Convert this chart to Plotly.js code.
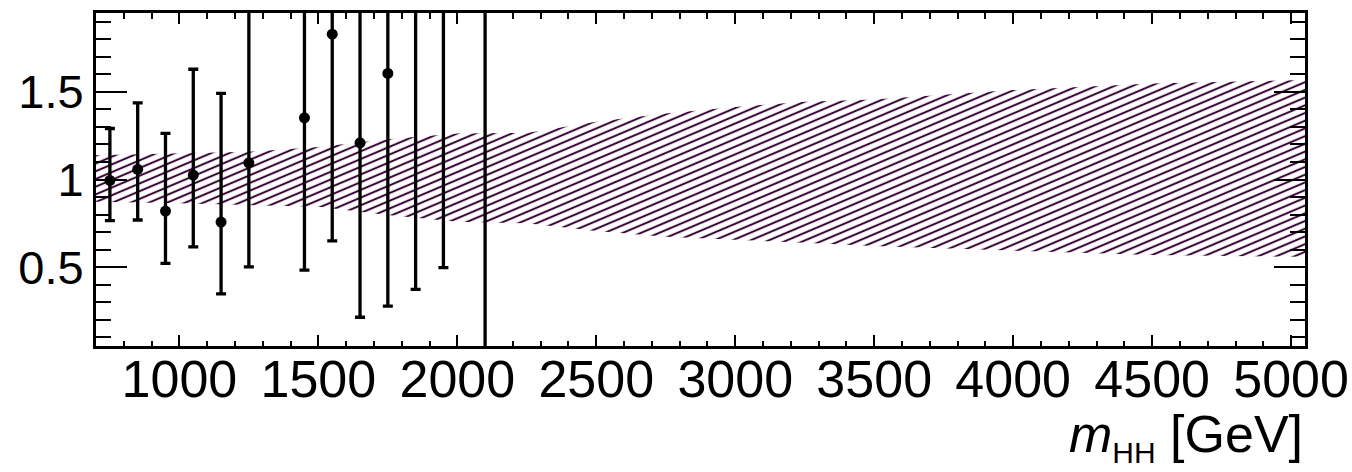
<!DOCTYPE html>
<html><head><meta charset="utf-8">
<script src="https://cdn.plot.ly/plotly-3.0.1.min.js"></script>
<style>html,body{margin:0;padding:0;background:#fff;} #plot{width:1352px;height:472px;}</style>
</head><body><div id="plot"></div>
<script>
// Uncertainty band (m_HH [GeV], lower / upper edge of ratio)
const bandX    = [700, 1000, 1250, 1500, 1750, 2000, 2250, 2500, 2750, 3000, 3250, 3500, 4000, 4500, 5050];
const bandLow  = [0.873, 0.865, 0.854, 0.844, 0.797, 0.759, 0.750, 0.706, 0.673, 0.658, 0.639, 0.620, 0.594, 0.569, 0.559];
const bandHigh = [1.139, 1.150, 1.158, 1.186, 1.229, 1.263, 1.266, 1.329, 1.377, 1.414, 1.443, 1.457, 1.510, 1.548, 1.568];

// Data / prediction ratio points
const binCenter = [750, 850, 950, 1050, 1150, 1250, 1450, 1550, 1650, 1750, 1850, 1950, 2100];
const ratio     = [0.995, 1.058, 0.820, 1.025, 0.757, 1.095, 1.352, 1.829, 1.209, 1.605, 2.30, 2.40, 0.0];
const errLow    = [0.765, 0.769, 0.522, 0.616, 0.347, 0.502, 0.483, 0.650, 0.214, 0.278, 0.373, 0.497, 0.0];
const errHigh   = [1.291, 1.437, 1.263, 1.629, 1.491, 2.60, 2.70, 3.00, 2.80, 2.90, 3.20, 3.40, 2.60];

// Ticks
const xTickVals = [1000, 1500, 2000, 2500, 3000, 3500, 4000, 4500, 5000];
const xTickText = ['1000', '1500', '2000', '2500', '3000', '3500', '4000', '4500', '5000'];
const yTickVals = [0.5, 1, 1.5];
const yTickText = ['0.5', '1', '1.5'];

const hatchColor = '#3a0838';
const FONT = 'Liberation Sans, Arial, Helvetica, sans-serif';

const data = [
  {x: bandX, y: bandLow, mode: 'lines', line: {width: 0, color: 'rgba(0,0,0,0)'},
   showlegend: false, hoverinfo: 'skip'},
  {x: bandX, y: bandHigh, mode: 'lines', line: {width: 0, color: 'rgba(0,0,0,0)'},
   fill: 'tonexty', fillcolor: hatchColor,
   fillpattern: {shape: '-', size: 7.1, solidity: 0.29, fgcolor: hatchColor, bgcolor: 'rgba(0,0,0,0)', fillmode: 'replace'},
   showlegend: false, hoverinfo: 'skip'},
  {x: binCenter, y: ratio, mode: 'markers', type: 'scatter',
   marker: {symbol: 'circle', size: 11, color: '#000'},
   error_y: {type: 'data', symmetric: false,
     array: ratio.map((v, i) => errHigh[i] - v),
     arrayminus: ratio.map((v, i) => v - errLow[i]),
     color: '#000', thickness: 3.3, width: 5},
   showlegend: false}
];

const axisCommon = {
  showline: true, linecolor: '#000', linewidth: 3, mirror: 'allticks',
  ticks: 'inside', tickcolor: '#000', tickwidth: 2,
  showgrid: false, zeroline: false, fixedrange: true
};

const layout = {
  width: 1352, height: 472,
  margin: {l: 96, r: 47, t: 13, b: 126},
  paper_bgcolor: '#fff', plot_bgcolor: '#fff',
  font: {family: FONT, color: '#000'},
  xaxis: Object.assign({}, axisCommon, {
    range: [700, 5050], tickmode: 'array', tickvals: xTickVals, ticktext: xTickText,
    ticklen: 11, ticklabelstandoff: -14, tickfont: {size: 52, family: FONT, color: '#000'},
    minor: {dtick: 100, tick0: 0, ticks: 'inside', ticklen: 5.5, tickwidth: 2, tickcolor: '#000', showgrid: false}
  }),
  yaxis: Object.assign({}, axisCommon, {
    range: [0.05, 1.95], tickmode: 'array', tickvals: yTickVals, ticktext: yTickText,
    ticklen: 31, tickfont: {size: 47, family: FONT, color: '#000'},
    minor: {dtick: 0.1, tick0: 0, ticks: 'inside', ticklen: 15, tickwidth: 2, tickcolor: '#000', showgrid: false}
  }),
  annotations: [{
    text: '<i>m</i><sub><span style="font-size:30px">HH</span></sub> [GeV]', xref: 'paper', yref: 'paper',
    x: 1, y: -0.172, xanchor: 'right', yanchor: 'top', showarrow: false,
    font: {size: 52, family: FONT, color: '#000'}
  }]
};

Plotly.newPlot('plot', data, layout, {staticPlot: true, displayModeBar: false}).then(function () {
  document.querySelectorAll('pattern').forEach(function (p) {
    p.setAttribute('patternTransform', 'rotate(-23)');
  });
});
</script>
</body></html>
